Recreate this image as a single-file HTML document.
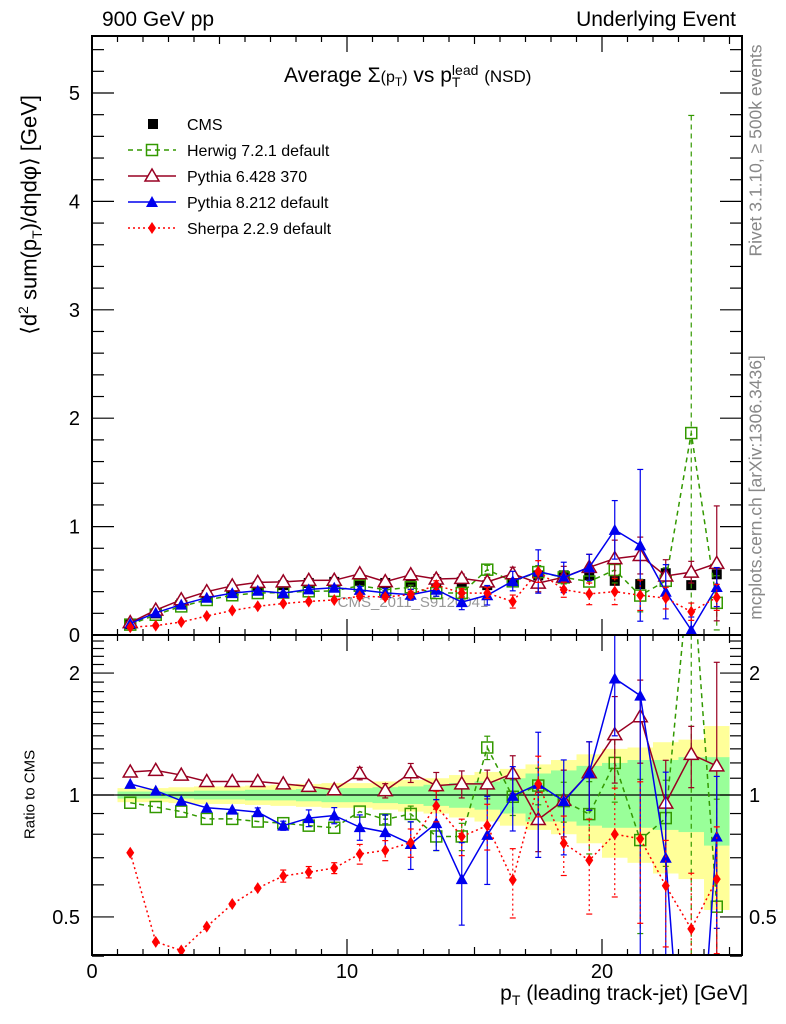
<!DOCTYPE html>
<html><head><meta charset="utf-8">
<style>
html,body{margin:0;background:#fff;width:786px;height:1024px;overflow:hidden;position:relative;}
svg{display:block;font-family:"Liberation Sans",sans-serif;}
</style></head>
<body>
<svg id="chart" width="786" height="1024" viewBox="0 0 786 1024" xmlns="http://www.w3.org/2000/svg">
</svg>
<script>
// ---- data ----
const binCenters = [1.5,2.5,3.5,4.5,5.5,6.5,7.5,8.5,9.5,10.5,11.5,12.5,13.5,14.5,15.5,16.5,17.5,18.5,19.5,20.5,21.5,22.5,23.5,24.5];
const cmsValues  = [0.10,0.20,0.29,0.37,0.42,0.45,0.46,0.48,0.49,0.50,0.48,0.49,0.49,0.49,0.46,0.50,0.55,0.55,0.55,0.50,0.47,0.57,0.46,0.56];
const herwigRatio  = [0.957,0.934,0.91,0.873,0.873,0.86,0.852,0.84,0.83,0.91,0.87,0.898,0.79,0.79,1.31,0.99,1.055,0.966,0.897,1.2,0.774,0.877,4.05,0.53];
const pythia6Ratio = [1.14,1.15,1.12,1.08,1.08,1.08,1.065,1.05,1.03,1.13,1.025,1.135,1.055,1.065,1.065,1.13,0.87,0.97,1.135,1.41,1.56,0.955,1.26,1.18];
const pythia8Ratio = [1.065,1.025,0.968,0.93,0.92,0.907,0.84,0.877,0.89,0.833,0.81,0.757,0.852,0.62,0.797,0.995,1.065,0.966,1.135,1.94,1.76,0.70,0.10,0.79];
const sherpaRatio  = [0.72,0.434,0.413,0.473,0.538,0.589,0.631,0.645,0.66,0.715,0.73,0.763,0.94,0.79,0.84,0.617,1.065,0.76,0.69,0.80,0.78,0.597,0.467,0.62];
// absolute errors (main panel units)
const herwigErr  = [0,0,0,0,0,0,0,0,0,0,0.01,0.02,0.03,0.03,0.04,0.05,0.06,0.06,0.1,0.12,0.15,0.12,2.93,0.25];
const pythia6Err = [0,0,0,0,0,0,0,0.01,0.01,0.02,0.02,0.03,0.04,0.04,0.04,0.06,0.08,0.1,0.12,0.17,0.17,0.15,0.1,0.53];
const pythia8Err = [0,0,0,0,0,0.01,0.01,0.02,0.02,0.03,0.04,0.05,0.06,0.07,0.09,0.09,0.2,0.14,0.12,0.27,0.7,0.25,0.12,0.18];
const sherpaErr  = [0,0,0,0,0,0,0.01,0.01,0.01,0.02,0.02,0.03,0.04,0.04,0.05,0.06,0.1,0.07,0.1,0.12,0.14,0.1,0.08,0.12];
const bandGreenLo  = [0.98,0.98,0.98,0.975,0.975,0.97,0.97,0.965,0.96,0.96,0.955,0.95,0.94,0.93,0.92,0.9,0.86,0.86,0.84,0.83,0.83,0.82,0.81,0.75];
const bandGreenHi  = [1.02,1.02,1.02,1.025,1.025,1.03,1.03,1.035,1.04,1.04,1.045,1.05,1.06,1.07,1.08,1.1,1.13,1.15,1.18,1.2,1.22,1.22,1.24,1.24];
const bandYellowLo = [0.96,0.96,0.955,0.95,0.95,0.945,0.94,0.935,0.93,0.93,0.92,0.91,0.9,0.88,0.86,0.84,0.82,0.8,0.76,0.7,0.68,0.64,0.62,0.52];
const bandYellowHi = [1.04,1.04,1.045,1.05,1.05,1.055,1.06,1.065,1.07,1.07,1.08,1.09,1.1,1.12,1.14,1.16,1.19,1.22,1.26,1.3,1.31,1.35,1.37,1.48];
const mainTicks = [0,1,2,3,4,5];
const ratioTicks = [0.5,1,2];
const xTicks = [0,10,20];

// ---- axes ----
const X0=92, X1=742, MT=36, MB=635, RT=635, RB=955;
const xs=v=>X0+v*25.5;
const ysMain=v=>635-v*108.4;
const ysRatio=r=>795-405*Math.log10(r);
const NS='http://www.w3.org/2000/svg';
const svg=document.getElementById('chart');
function mk(tag,attrs,parent){const e=document.createElementNS(NS,tag);for(const k in attrs)e.setAttribute(k,attrs[k]);(parent||svg).appendChild(e);return e;}
function txt(s,attrs,parent){const e=mk('text',attrs,parent);e.textContent=s;return e;}

const defs=mk('defs',{});
const cpM=mk('clipPath',{id:'cm'},defs);mk('rect',{x:X0,y:MT,width:X1-X0,height:MB-MT},cpM);
const cpR=mk('clipPath',{id:'cr'},defs);mk('rect',{x:X0,y:RT,width:X1-X0,height:RB-RT},cpR);

// bands
const gBand=mk('g',{'clip-path':'url(#cr)'});


binCenters.forEach((c,i)=>{
  const x0=xs(c-0.5), w=25.5;
  const y=mk('rect',{x:x0,y:ysRatio(bandYellowHi[i]),width:w,height:ysRatio(bandYellowLo[i])-ysRatio(bandYellowHi[i]),fill:'#ffff99'},gBand);
  
  
  const g=mk('rect',{x:x0,y:ysRatio(bandGreenHi[i]),width:w,height:ysRatio(bandGreenLo[i])-ysRatio(bandGreenHi[i]),fill:'#99ff99'},gBand);
  
  
});
mk('line',{x1:X0,x2:X1,y1:ysRatio(1),y2:ysRatio(1),stroke:'#000','stroke-width':1.2});

// watermark
const wm=txt('CMS_2011_S9120041',{x:413,y:607,'font-size':15,fill:'#999','text-anchor':'middle'});



function marker(g,type,x,y,col){
  if(type==='sq') mk('rect',{x:x-5.5,y:y-5.5,width:11,height:11,fill:'none',stroke:col,'stroke-width':1.5},g);
  else if(type==='cms') mk('rect',{x:x-5,y:y-5,width:10,height:10,fill:'#000'},g);
  else if(type==='tri') mk('polygon',{points:`${x},${y-7} ${x-7},${y+5} ${x+7},${y+5}`,fill:'#fff',stroke:col,'stroke-width':1.5},g);
  else if(type==='ftri') mk('polygon',{points:`${x},${y-6} ${x-6},${y+5} ${x+6},${y+5}`,fill:col},g);
  else if(type==='dia') mk('polygon',{points:`${x},${y-6} ${x-4},${y} ${x},${y+6} ${x+4},${y}`,fill:col},g);
}
const series=[
  {name:'herwig',ratio:herwigRatio,err:herwigErr,col:'#339900',dash:'5,4',m:'sq'},
  {name:'pythia6',ratio:pythia6Ratio,err:pythia6Err,col:'#990022',dash:'',m:'tri'},
  {name:'pythia8',ratio:pythia8Ratio,err:pythia8Err,col:'#0000ee',dash:'',m:'ftri'},
  {name:'sherpa',ratio:sherpaRatio,err:sherpaErr,col:'#ff0000',dash:'2,3',m:'dia'}
];
const gC=mk('g',{'clip-path':'url(#cm)'});


binCenters.forEach((c,i)=>marker(gC,'cms',xs(c),ysMain(cmsValues[i])));

series.forEach(s=>{
  [['main',ysMain,'cm'],['ratio',ysRatio,'cr']].forEach(([panel,ys,clip])=>{
    const g=mk('g',{'clip-path':`url(#${clip})`});
    
    
    const val=i=>panel==='main'?s.ratio[i]*cmsValues[i]:s.ratio[i];
    const er=i=>panel==='main'?s.err[i]:s.err[i]/cmsValues[i];
    const pts=binCenters.map((c,i)=>`${xs(c)},${ys(val(i))}`).join(' ');
    const pl=mk('polyline',{points:pts,fill:'none',stroke:s.col,'stroke-width':1.5},g);
    if(s.dash)pl.setAttribute('stroke-dasharray',s.dash);
    binCenters.forEach((c,i)=>{
      const e=er(i); if(e<=0)return;
      const lo=Math.max(val(i)-e, panel==='main'?0:0.01);
      const yh=ys(val(i)+e), yl=ys(lo), x=xs(c);
      const l=mk('line',{x1:x,x2:x,y1:yh,y2:yl,stroke:s.col,'stroke-width':1.2},g);
      if(s.dash)l.setAttribute('stroke-dasharray',s.dash);
      mk('line',{x1:x-3,x2:x+3,y1:yh,y2:yh,stroke:s.col,'stroke-width':1.2},g);
      mk('line',{x1:x-3,x2:x+3,y1:yl,y2:yl,stroke:s.col,'stroke-width':1.2},g);
    });
    binCenters.forEach((c,i)=>marker(g,s.m,xs(c),ys(val(i)),s.col));
  });
});

// frames
mk('rect',{x:X0,y:MT,width:X1-X0,height:MB-MT,fill:'none',stroke:'#000','stroke-width':2});
mk('rect',{x:X0,y:RT,width:X1-X0,height:RB-RT,fill:'none',stroke:'#000','stroke-width':2});

// x ticks
for(let v=0;v<=25;v++){
  const x=xs(v), L=(v%10===0?16:(v%5===0?8:6));
  mk('line',{x1:x,x2:x,y1:MB,y2:MB-L,stroke:'#000','stroke-width':1.2});
  mk('line',{x1:x,x2:x,y1:RB,y2:RB-L,stroke:'#000','stroke-width':1.2});
  mk('line',{x1:x,x2:x,y1:MT,y2:MT+L,stroke:'#000','stroke-width':1.2});
  mk('line',{x1:x,x2:x,y1:RT,y2:RT+L,stroke:'#000','stroke-width':1.2});
}
xTicks.forEach(v=>{const t=txt(String(v),{x:xs(v),y:978,'font-size':20,'text-anchor':'middle'});
  });
for(let k=0;k<=27;k++){
  const v=k*0.2, y=ysMain(v); if(y<MT)break;
  const L=(k%5===0)?22:12;
  mk('line',{x1:X0,x2:X0+L,y1:y,y2:y,stroke:'#000','stroke-width':1.2});
  mk('line',{x1:X1,x2:X1-L,y1:y,y2:y,stroke:'#000','stroke-width':1.2});
}
mainTicks.forEach(v=>{const t=txt(String(v),{x:80,y:ysMain(v)+7,'font-size':20,'text-anchor':'end'});
  });
[0.4,0.5,0.6,0.7,0.8,0.9,1,1.1,1.2,1.3,1.4,1.5,1.6,1.7,1.8,1.9,2,2.1,2.2,2.3,2.4].forEach(r=>{
  const y=ysRatio(r);const L=(r===0.5||r===1||r===2)?22:12;
  mk('line',{x1:X0,x2:X0+L,y1:y,y2:y,stroke:'#000','stroke-width':1.2});
  mk('line',{x1:X1,x2:X1-L,y1:y,y2:y,stroke:'#000','stroke-width':1.2});
});
ratioTicks.forEach(v=>{
  const a=txt(String(v),{x:80,y:ysRatio(v)+7,'font-size':20,'text-anchor':'end'});
  
  const b=txt(String(v),{x:749,y:ysRatio(v)+7,'font-size':20});
  
});

// legend
const legend=mk('g',{});


const legNames=['CMS','Herwig 7.2.1 default','Pythia 6.428 370','Pythia 8.212 default','Sherpa 2.2.9 default'];
legNames.forEach((n,i)=>{
  const y=124+i*26;
  if(i===0) marker(legend,'cms',153,y);
  else{const s=series[i-1];
    const l=mk('line',{x1:128,x2:176,y1:y,y2:y,stroke:s.col,'stroke-width':1.5},legend);
    if(s.dash)l.setAttribute('stroke-dasharray',s.dash);
    marker(legend,s.m,152,y,s.col);}
  txt(n,{x:187,y:y+6,'font-size':16},legend);
});
</script>
<div style="position:absolute;left:0;top:0;width:786px;height:1024px;overflow:hidden;pointer-events:none;font-family:'Liberation Sans',sans-serif;">
  <div style="position:absolute;left:102px;top:8px;font-size:21px;">900 GeV pp</div>
  <div style="position:absolute;right:50px;top:8px;font-size:21px;">Underlying Event</div>
  <div style="position:absolute;left:284px;top:64px;font-size:21px;white-space:nowrap;">Average Σ<span style="font-size:16px">(p<sub style="font-size:12px">T</sub>)</span> vs p<span style="display:inline-block;vertical-align:middle;line-height:12px;font-size:14px;"><span style="display:block">lead</span><span style="display:block">T</span></span> <span style="font-size:17px">(NSD)</span></div>
  <div style="position:absolute;left:-160px;top:200px;width:380px;text-align:center;transform:rotate(-90deg);font-size:22px;white-space:nowrap;">⟨d<sup style="font-size:14px">2</sup> sum(p<sub style="font-size:14px">T</sub>)/dηdφ⟩ [GeV]</div>
  <div style="position:absolute;left:-40px;top:786px;width:140px;text-align:center;transform:rotate(-90deg);font-size:15px;white-space:nowrap;">Ratio to CMS</div>
  <div style="position:absolute;right:38px;top:982px;font-size:21px;white-space:nowrap;">p<sub style="font-size:14px">T</sub> (leading track-jet) [GeV]</div>
  <div style="position:absolute;left:606px;top:140px;width:300px;text-align:center;transform:rotate(-90deg);font-size:17.5px;color:#888;white-space:nowrap;">Rivet 3.1.10, ≥ 500k events</div>
  <div style="position:absolute;left:596px;top:477px;width:320px;text-align:center;transform:rotate(-90deg);font-size:17.5px;color:#888;white-space:nowrap;">mcplots.cern.ch [arXiv:1306.3436]</div>
</div>
</body></html>
